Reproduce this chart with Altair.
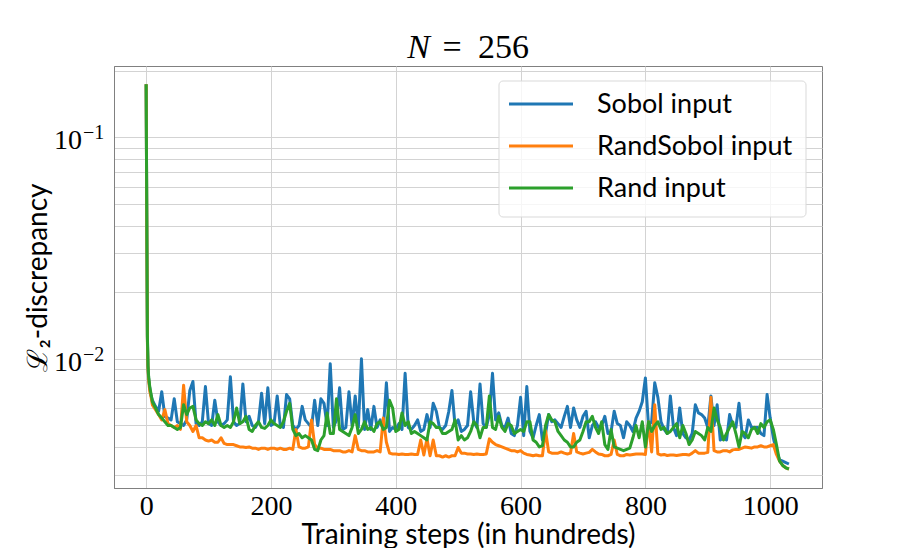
import altair as alt
import pandas as pd

series_names = ["Sobol input", "RandSobol input", "Rand input"]
colors = ["#1f77b4", "#ff7f0e", "#2ca02c"]

# training step (in hundreds)
steps = [0, 1, 2, 3, 4, 6, 8] + list(range(10, 1031, 5))

# L2-discrepancy values, in units of 1e-3
sobol_milli = [
    174, 45, 12.5, 9.2, 8.2, 7.3, 6.8,
    6.5, 6.1, 5.8, 7.1, 5.5, 5.4, 5.3, 6.6, 5.2, 5.1,
    5.0, 5.3, 7.2, 7.9, 5.1, 5.0, 5.2, 7.5, 5.1, 5.0,
    6.5, 5.2, 5.0, 5.1, 5.3, 8.3, 5.2, 5.0, 5.1, 7.7,
    5.2, 5.5, 5.0, 4.9, 5.2, 7.0, 5.1, 7.4, 5.0, 5.1,
    6.8, 5.0, 4.9, 6.9, 6.6, 5.0, 4.8, 5.0, 6.1, 5.3,
    5.1, 4.9, 6.5, 5.0, 6.6, 6.3, 5.0, 9.5, 4.9, 5.3,
    7.4, 4.8, 4.9, 7.1, 5.0, 6.8, 4.9, 10.0, 4.8, 5.9,
    4.8, 6.1, 4.9, 5.3, 4.8, 7.8, 4.7, 4.9, 4.8, 5.1,
    4.8, 8.6, 4.9, 4.8, 5.0, 5.3, 4.7, 4.8, 5.6, 4.9,
    6.3, 5.8, 4.9, 4.8, 5.0, 5.8, 7.2, 5.0, 5.3, 4.7,
    4.8, 5.0, 7.1, 5.2, 4.9, 7.7, 5.1, 4.9, 5.6, 8.6,
    5.3, 5.7, 5.0, 4.9, 5.4, 4.6, 4.5, 5.0, 6.7, 4.5,
    7.5, 4.7, 4.4, 5.0, 5.6, 4.3, 4.6, 5.6, 5.2, 5.3,
    5.1, 4.9, 5.5, 6.1, 4.9, 6.0, 5.3, 4.9, 5.5, 5.8,
    4.4, 5.0, 5.2, 4.9, 5.0, 5.5, 4.6, 4.7, 5.8, 5.1,
    5.0, 4.4, 5.2, 5.0, 4.7, 5.4, 5.8, 6.4, 8.2, 5.0,
    5.2, 7.8, 6.7, 5.2, 4.8, 4.6, 6.8, 4.9, 4.5, 6.0,
    4.6, 4.4, 4.3, 4.6, 6.2, 5.7, 5.6, 5.4, 4.9, 6.8,
    5.0, 6.2, 4.3, 4.4, 4.3, 5.6, 5.0, 4.9, 6.3, 4.6,
    4.4, 5.3, 4.9, 4.9, 4.9, 4.6, 4.5, 6.9, 5.4, 4.4,
    3.85, 3.5, 3.45, 3.4, 3.35,
]

randsobol_milli = [
    174, 44, 12, 9.0, 8.0, 7.1, 6.7,
    6.2, 5.9, 5.6, 5.3, 5.9, 5.1, 5.0, 4.9, 5.0, 4.8,
    7.6, 5.2, 5.0, 4.7, 5.0, 4.4, 4.4, 4.3, 4.25, 4.3,
    4.2, 4.2, 4.4, 4.15, 4.1, 4.1, 4.1, 4.05, 4.0, 4.0,
    3.98, 4.0, 3.95, 3.95, 3.9, 3.95, 3.95, 3.9, 3.95, 3.95,
    3.9, 3.95, 3.9, 3.9, 3.95, 3.9, 4.8, 4.0, 3.95, 3.95,
    4.0, 5.3, 4.1, 3.95, 3.95, 3.9, 3.9, 3.9, 3.85, 3.85,
    3.85, 3.8, 3.8, 3.85, 3.8, 4.5, 3.9, 3.85, 3.85, 3.8,
    3.8, 3.8, 3.85, 3.8, 5.4, 4.2, 3.75, 3.72, 3.72, 3.7,
    3.72, 3.7, 3.7, 3.72, 3.7, 3.7, 4.3, 3.68, 4.35, 3.65,
    4.3, 3.65, 3.65, 3.6, 3.65, 3.6, 3.65, 3.65, 3.98, 3.75,
    3.75, 3.72, 3.72, 3.7, 3.72, 3.7, 3.7, 3.72, 4.35, 4.2,
    4.1, 4.05, 4.0, 3.95, 3.9, 3.85, 3.85, 3.8, 3.85, 3.75,
    3.7, 3.68, 3.65, 3.68, 3.65, 3.65, 4.75, 3.8, 3.75, 3.75,
    3.75, 3.8, 3.75, 3.72, 3.75, 4.6, 3.8, 3.75, 3.72, 3.75,
    3.78, 3.9, 3.8, 3.72, 3.7, 3.65, 3.65, 3.7, 4.3, 3.7,
    3.65, 3.65, 3.7, 3.68, 3.7, 3.72, 3.72, 3.72, 3.7, 5.2,
    3.8, 6.2, 3.72, 3.68, 3.7, 3.66, 3.68, 3.68, 3.66, 3.68,
    3.7, 3.7, 3.68, 3.75, 3.85, 3.75, 3.75, 3.75, 3.78, 6.7,
    3.85, 3.8, 3.8, 3.85, 3.85, 3.8, 3.88, 3.9, 3.9, 3.95,
    4.0, 3.98, 3.95, 4.0, 4.0, 4.05, 4.0, 4.0, 4.05, 4.1,
    3.7, 3.45, 3.3, 3.22, 3.18,
]

rand_milli = [
    174, 46, 12.8, 9.3, 8.3, 7.4, 6.9,
    6.4, 6.0, 5.6, 5.4, 5.2, 5.0, 5.0, 4.9, 4.8, 4.9,
    6.2, 5.6, 6.0, 6.1, 5.3, 5.1, 5.0, 5.2, 5.1, 5.3,
    5.0, 5.6, 5.0, 4.9, 5.0, 4.9, 5.2, 6.0, 5.1, 5.2,
    5.5, 4.8, 4.7, 5.0, 5.2, 4.9, 4.85, 5.0, 5.3, 5.1,
    5.0, 4.9, 5.2, 5.8, 6.3, 4.8, 4.5, 4.6, 4.4, 4.5,
    4.4, 4.3, 3.9, 3.85, 4.3, 4.5, 5.7, 4.6, 4.6, 6.6,
    4.8, 4.7, 4.6, 4.5, 4.9, 5.6, 4.6, 4.8, 5.2, 4.8,
    4.9, 4.7, 5.1, 5.2, 4.8, 4.9, 6.5, 6.0, 4.7, 4.8,
    5.7, 5.0, 5.2, 4.6, 4.7, 4.6, 4.5, 4.4, 4.3, 5.2,
    5.1, 4.9, 4.9, 4.6, 4.6, 4.7, 4.8, 5.3, 4.3, 4.5,
    4.3, 4.4, 4.7, 5.2, 5.0, 4.4, 4.9, 4.9, 6.8, 4.9,
    4.8, 5.5, 4.9, 4.7, 5.1, 5.0, 4.6, 4.7, 4.8, 4.7,
    5.2, 5.2, 4.3, 4.2, 4.0, 4.05, 5.0, 5.6, 5.3, 5.2,
    4.7, 4.5, 4.3, 4.2, 4.0, 4.0, 4.2, 4.3, 4.7, 5.2,
    5.2, 5.5, 4.9, 4.6, 5.2, 4.1, 3.9, 4.8, 4.0, 3.95,
    3.9, 3.85, 3.9, 3.95, 4.4, 5.0, 4.4, 5.2, 4.0, 5.2,
    4.7, 5.0, 5.2, 4.8, 4.9, 4.6, 4.7, 4.9, 5.1, 4.4,
    5.0, 4.6, 4.1, 4.3, 4.7, 4.6, 4.5, 4.3, 4.9, 4.7,
    6.0, 5.3, 4.9, 4.3, 4.6, 4.9, 5.2, 4.6, 4.0, 4.7,
    4.6, 4.4, 4.8, 4.9, 4.6, 5.1, 4.9, 5.2, 5.3, 4.8,
    4.1, 3.45, 3.3, 3.22, 3.18,
]

for name, vals in zip(series_names, [sobol_milli, randsobol_milli, rand_milli]):
    if len(vals) != len(steps):
        raise ValueError(f"{name}: {len(vals)} values vs {len(steps)} steps")

x_ticks = [0, 200, 400, 600, 800, 1000]
y_grid = [0.003, 0.004, 0.005, 0.006, 0.007, 0.008, 0.009,
          0.01, 0.02, 0.03, 0.04, 0.05, 0.06, 0.07, 0.08, 0.09, 0.1, 0.2]
y_major = [0.1, 0.01]
y_major_exp = ["\u22121", "\u22122"]

rows = []
for name, vals in zip(series_names, [sobol_milli, randsobol_milli, rand_milli]):
    for s, v in zip(steps, vals):
        rows.append({"step": s, "value": v / 1000.0, "series": name})
df = pd.DataFrame(rows)

W, H = 708, 422
x_scale = alt.Scale(domain=[-51.5, 1083], nice=False, zero=False)
y_scale = alt.Scale(type="log", domain=[0.00261, 0.2103], nice=False)
color_scale = alt.Scale(domain=series_names, range=colors)

x_axis = alt.Axis(values=x_ticks, format="d", title="Training steps (in hundreds)",
                  ticks=False, labelFont="Liberation Serif", labelFontSize=28,
                  labelColor="black", labelPadding=4, domainColor="#808080",
                  gridColor="#d3d3d3", titleFont="Lato", titleFontSize=28,
                  titleFontWeight="normal", titleColor="black", titleY=55,
                  titleBaseline="alphabetic")
y_axis = alt.Axis(values=y_grid, labels=False, ticks=False, domainColor="#808080",
                  gridColor="#d3d3d3", title="\u2112\u2082-discrepancy",
                  titleFont="Lato", titleFontSize=28, titleFontWeight="normal",
                  titleColor="black", titleX=-62, titleY=H / 2, titleAngle=270,
                  titleBaseline="bottom")

layers = []
for name in series_names:
    layers.append(
        alt.Chart(df).transform_filter(alt.datum.series == name)
        .mark_line(strokeWidth=3, strokeJoin="round")
        .encode(
            x=alt.X("step:Q", scale=x_scale, axis=x_axis),
            y=alt.Y("value:Q", scale=y_scale, axis=y_axis),
            color=alt.Color("series:N", scale=color_scale, legend=None),
        )
    )

# y tick labels 10^-1, 10^-2 placed through the log scale
ylab_df = pd.DataFrame({"value": y_major, "base": ["10", "10"], "exp": y_major_exp})
ylab_base = alt.Chart(ylab_df).mark_text(
    align="right", baseline="alphabetic", font="Liberation Serif", fontSize=28,
    color="black", dy=12
).encode(x=alt.value(-32), y=alt.Y("value:Q", scale=y_scale, axis=y_axis), text="base:N")
ylab_exp = alt.Chart(ylab_df).mark_text(
    align="left", baseline="alphabetic", font="Liberation Serif", fontSize=20,
    color="black", dy=2
).encode(x=alt.value(-31), y=alt.Y("value:Q", scale=y_scale, axis=y_axis), text="exp:N")

# title  N = 256
title_df = pd.DataFrame({"n": ["N"], "eq": ["="], "num": ["256"]})
t_n = alt.Chart(title_df).mark_text(
    align="right", baseline="alphabetic", font="Liberation Serif", fontStyle="italic",
    fontSize=34, color="black"
).encode(x=alt.value(316), y=alt.value(-8), text="n:N")
t_eq = alt.Chart(title_df).mark_text(
    align="center", baseline="alphabetic", font="Liberation Serif",
    fontSize=34, color="black"
).encode(x=alt.value(338), y=alt.value(-8), text="eq:N")
t_num = alt.Chart(title_df).mark_text(
    align="left", baseline="alphabetic", font="Liberation Serif",
    fontSize=34, color="black"
).encode(x=alt.value(364), y=alt.value(-8), text="num:N")

# legend box (matplotlib style)
leg_df = pd.DataFrame({"series": series_names, "color": colors})
leg_box = alt.Chart(pd.DataFrame({"k": [0]})).mark_rect(
    fill="white", fillOpacity=0.8, stroke="#d9d9d9", strokeWidth=1, cornerRadius=4
).encode(x=alt.value(385), x2=alt.value(692), y=alt.value(15), y2=alt.value(151))
leg_items = []
for i, name in enumerate(series_names):
    row = leg_df[leg_df.series == name]
    leg_items.append(
        alt.Chart(row).mark_rule(strokeWidth=3, color=colors[i]).encode(
            x=alt.value(395), x2=alt.value(459), y=alt.value(38 + 42 * i))
    )
    leg_items.append(
        alt.Chart(row).mark_text(align="left", baseline="middle", font="Lato",
                                 fontSize=27, color="black").encode(
            x=alt.value(483), y=alt.value(39 + 42 * i), text="series:N")
    )

chart = alt.layer(*layers, ylab_base, ylab_exp, t_n, t_eq, t_num, leg_box,
                  *leg_items).properties(
    width=W, height=H,
    autosize=alt.AutoSizeParams(type="none"),
    padding={"left": 106, "top": 58, "right": 83, "bottom": 62},
    background="white",
).configure_view(stroke="#808080", strokeWidth=1)

chart.save("out.html", embed_options={"renderer": "svg", "actions": False})
